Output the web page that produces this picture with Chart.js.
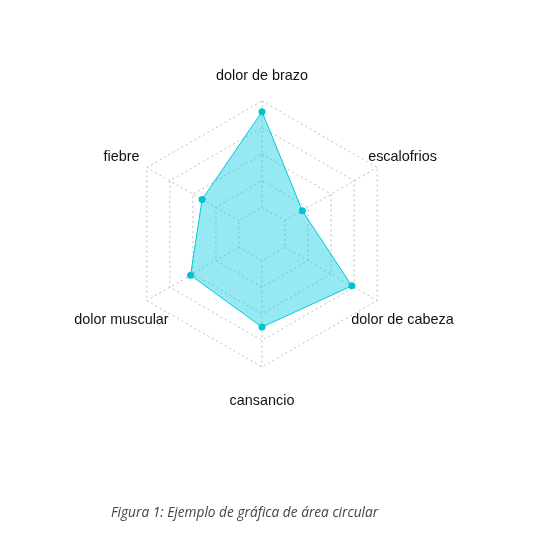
<!DOCTYPE html>
<html>
<head>
<meta charset="utf-8">
<script src="https://cdn.jsdelivr.net/npm/chart.js@4"></script>
<style>
  html, body { margin: 0; padding: 0; background: #fff; }
  #wrap { position: relative; width: 539px; height: 540px; }
  canvas { position: absolute; left: 0; top: 0; }
  #caption { position: absolute; left: 111px; top: 502px; font-family: "Open Sans", sans-serif; font-style: italic; font-size: 13.7px; color: #444; white-space: nowrap; line-height: 19px; }
</style>
</head>
<body>
<div id="wrap">
  <canvas id="c" width="539" height="540"></canvas>
  <div id="caption">Figura 1: Ejemplo de gráfica de área circular</div>
</div>
<script>
const categories = ["dolor de brazo", "escalofrios", "dolor de cabeza", "cansancio", "dolor muscular", "fiebre"];
const values = [9.2, 3.5, 7.8, 7.0, 6.2, 5.2];
const scaleMin = 0;
const scaleMax = 10;
const scaleStep = 2;

const lineColor = "rgb(0, 200, 215)";
const fillColor = "rgba(0, 202, 224, 0.41)";
const pointColor = "rgb(0, 195, 205)";
const gridColor = "#bdbdbd";

const customAxes = {
  id: "customAxes",
  beforeDatasetsDraw(chart) {
    const s = chart.scales.r;
    const ctx = chart.ctx;
    const inner = s.getDistanceFromCenterForValue(scaleStep);
    ctx.save();
    ctx.strokeStyle = gridColor;
    ctx.lineWidth = 1;
    ctx.setLineDash([2, 3]);
    for (let i = 0; i < categories.length; i++) {
      const a = s.getPointPosition(i, inner);
      const b = s.getPointPosition(i, s.drawingArea);
      ctx.beginPath();
      ctx.moveTo(a.x, a.y);
      ctx.lineTo(b.x, b.y);
      ctx.stroke();
    }
    ctx.restore();
  },
  afterDraw(chart) {
    const s = chart.scales.r;
    const ctx = chart.ctx;
    ctx.save();
    ctx.font = '14.4px "Liberation Sans", Arial, sans-serif';
    ctx.fillStyle = "#111";
    ctx.textAlign = "center";
    ctx.textBaseline = "middle";
    for (let i = 0; i < categories.length; i++) {
      const p = s.getPointPosition(i, s.drawingArea * 1.22);
      ctx.fillText(categories[i], p.x, p.y + 4.5);
    }
    ctx.restore();
  }
};

new Chart(document.getElementById("c"), {
  type: "radar",
  data: {
    labels: categories,
    datasets: [{
      data: values,
      borderColor: lineColor,
      backgroundColor: fillColor,
      borderWidth: 1,
      fill: true,
      pointRadius: 3.5,
      pointBackgroundColor: pointColor,
      pointBorderColor: pointColor,
      pointBorderWidth: 0,
      tension: 0
    }]
  },
  options: {
    responsive: false,
    animation: false,
    events: [],
    layout: { padding: { left: 129, right: 144, top: 101, bottom: 173 } },
    plugins: { legend: { display: false }, tooltip: { enabled: false }, title: { display: false } },
    scales: {
      r: {
        min: scaleMin,
        max: scaleMax,
        ticks: { display: false, stepSize: scaleStep },
        pointLabels: { display: false },
        angleLines: { display: false },
        grid: { color: gridColor, lineWidth: 1 },
        border: { dash: [2, 3] }
      }
    }
  },
  plugins: [customAxes]
});
</script>
</body>
</html>
